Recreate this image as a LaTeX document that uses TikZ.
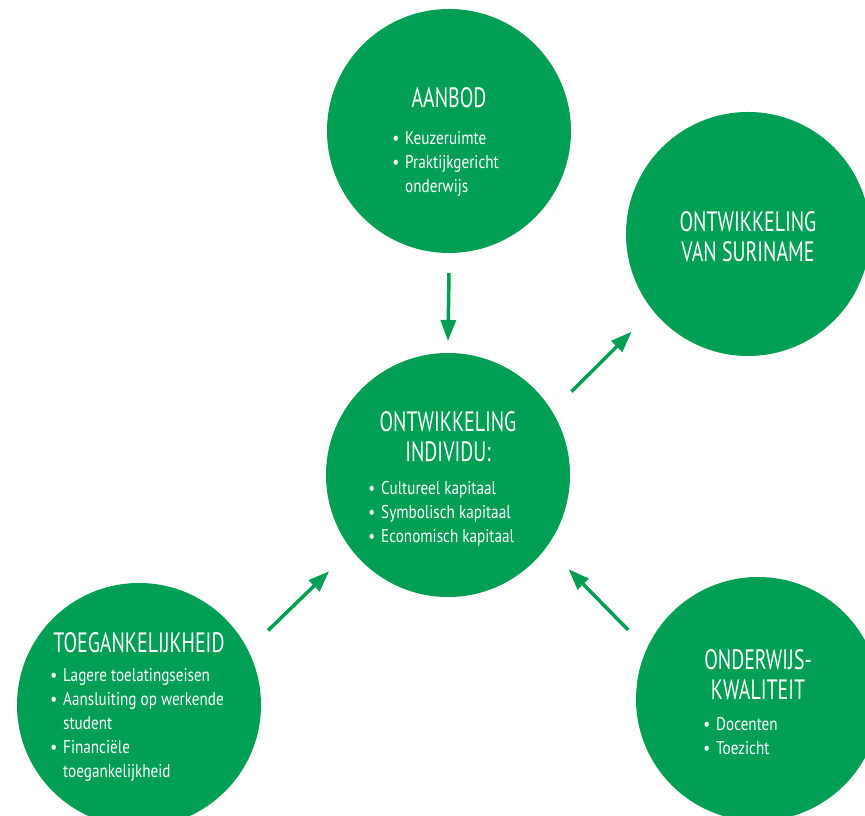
\documentclass[tikz,border=0pt]{standalone}
\usepackage{fontspec}
\setmainfont{PT Sans}[FakeStretch=0.82]
\newfontfamily\kopfont{PT Sans}[FakeStretch=0.71]
\usetikzlibrary{arrows.meta}
\definecolor{groen}{RGB}{0,159,84}
\tikzset{
  cirkel/.style={circle,fill=groen,minimum size=244pt,inner sep=0pt,outer sep=0pt},
  kop/.style={text=white,align=center,anchor=base,inner sep=0pt,font=\kopfont\fontsize{28}{30}\selectfont},
  lijst/.style={text=white,align=left,anchor=base west,inner sep=0pt,font=\fontsize{18.5}{24}\selectfont},
  pijl/.style={groen,line width=3.5pt,-{Triangle[length=21pt,width=15pt]}}
}
\newcommand{\bol}{\llap{\textbullet\hspace{6pt}}}

\begin{document}
\begin{tikzpicture}[x=1pt,y=1pt]
  \useasboundingbox (0,0) rectangle (865,816);

  % de cirkels
  \node[cirkel] (aanbod) at (449,685) {};
  \node[cirkel] (suriname) at (748,582) {};
  \node[cirkel] (individu) at (448,341) {};
  \node[cirkel] (toegang) at (139,111) {};
  \node[cirkel] (kwaliteit) at (758,117) {};

  % teksten (base = laatste regel)
  \node[kop] at ([yshift=23pt]aanbod) {AANBOD};
  \node[lijst] at ([xshift=-44pt,yshift=-62pt]aanbod) {\bol Keuzeruimte\\ \bol Praktijkgericht\\ onderwijs};

  \node[kop] at ([yshift=-28pt]suriname) {ONTWIKKELING\\ VAN SURINAME};

  \node[kop] at ([yshift=13pt]individu) {ONTWIKKELING\\ INDIVIDU:};
  \node[lijst] at ([xshift=-67pt,yshift=-68pt]individu) {\bol Cultureel kapitaal\\ \bol Symbolisch kapitaal\\ \bol Economisch kapitaal};

  \node[kop] at ([yshift=52pt]toegang) {TOEGANKELIJKHEID};
  \node[lijst] at ([xshift=-76pt,yshift=-73pt]toegang) {\bol Lagere toelatingseisen\\ \bol Aansluiting op werkende\\ student\\ \bol Financiële\\ toegankelijkheid};

  \node[kop] at ([yshift=-1pt]kwaliteit) {ONDERWIJS-\\ KWALITEIT};
  \node[lijst] at ([xshift=-42pt,yshift=-56pt]kwaliteit) {\bol Docenten\\ \bol Toezicht};

  % pijlen
  \draw[pijl] ([yshift=-20pt]aanbod.south) -- ([yshift=12pt]individu.north);
  \draw[pijl] ([shift={(34:27)}]individu.34) -- ([shift={(220:30)}]suriname.220);
  \draw[pijl] ([shift={(30:27)}]toegang.30) -- ([shift={(219:31)}]individu.219);
  \draw[pijl] ([shift={(152:25)}]kwaliteit.152) -- ([shift={(322:31)}]individu.322);
\end{tikzpicture}
\end{document}
